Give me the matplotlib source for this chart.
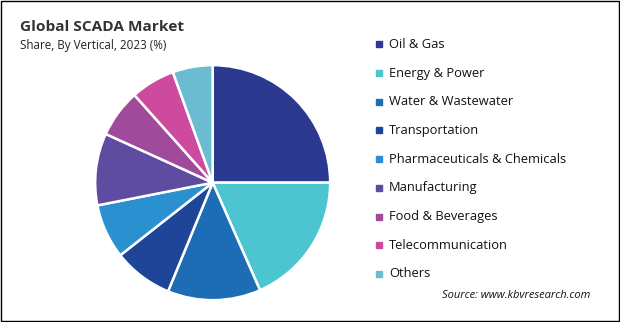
import matplotlib
matplotlib.use("Agg")
import matplotlib.pyplot as plt
from matplotlib.patches import Rectangle

plt.rcParams['font.family'] = ['Open Sans', 'DejaVu Sans']

# share by vertical, 2023 (%)
verticals = ["Oil & Gas", "Energy & Power", "Water & Wastewater", "Transportation",
             "Pharmaceuticals & Chemicals", "Manufacturing", "Food & Beverages",
             "Telecommunication", "Others"]
shares = [25.0, 18.4, 12.8, 8.2, 7.5, 9.9, 6.6, 6.1, 5.5]
colors = ["#2B3990", "#4CC5D0", "#1C6DB6", "#1E4597", "#2A90CF",
          "#5D4C9F", "#A04A9C", "#CD4A9F", "#6BBCD1"]

fig = plt.figure(figsize=(6.2, 3.22), dpi=100)

# pie
ax = fig.add_axes([0.1535, 0.0677, 0.379, 0.730])
ax.pie(shares, colors=colors, startangle=90, counterclock=False,
       wedgeprops=dict(edgecolor="white", linewidth=1.8))
ax.set_xlim(-1, 1)
ax.set_ylim(-1, 1)
ax.set_aspect("equal")
ax.axis("off")

# titles
fig.text(20/620, 1 - 27/322, "Global SCADA Market", fontsize=11.1, fontweight="bold",
         color="#333333", va="center", ha="left")
fig.text(20/620, 1 - 46/322, "Share, By Vertical, 2023 (%)", fontsize=8.4,
         color="#222222", va="center", ha="left")

# legend on the right
y0 = 44.3
step = 28.7
for i, (name, c) in enumerate(zip(verticals, colors)):
    y = 1 - (y0 + i*step)/322
    fig.patches.append(Rectangle((376/620, y - 3/322), 6/620, 6/322,
                                 transform=fig.transFigure, color=c))
    fig.text(389/620, y, name, fontsize=9.3, color="#111111", va="center", ha="left")

fig.text(590/620, 1 - 296/322, "Source: www.kbvresearch.com", fontsize=8,
         style="italic", color="#111111", va="center", ha="right")

# outer frame
fig.patches.append(Rectangle((0.001, 0.002), 0.997, 0.995, transform=fig.transFigure,
                             fill=False, edgecolor="black", linewidth=1))

fig.savefig("out.png", dpi=100)
